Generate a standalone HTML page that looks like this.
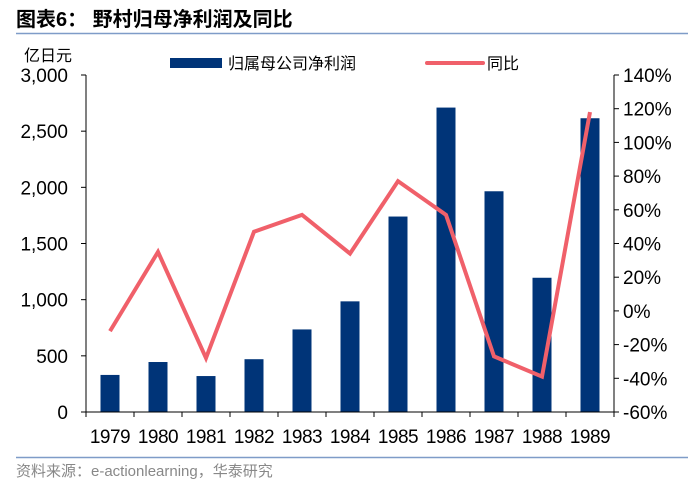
<!DOCTYPE html>
<html><head><meta charset="utf-8"><style>
body{margin:0;background:#fff}
svg text{font-family:"Liberation Sans","Noto Sans CJK SC",sans-serif}
</style></head><body>
<svg width="700" height="492" viewBox="0 0 700 492">
<text x="16" y="26" font-size="20" font-weight="bold" fill="#000">图表6：  野村归母净利润及同比</text>
<line x1="16" y1="33.5" x2="688" y2="33.5" stroke="#7f9cc8" stroke-width="1.5"/>
<text x="24" y="61" font-size="16" fill="#000">亿日元</text>
<rect x="170" y="58" width="52" height="10" fill="#003478"/>
<text x="228" y="69" font-size="16" fill="#000">归属母公司净利润</text>
<line x1="427" y1="63" x2="483" y2="63" stroke="#f0606a" stroke-width="4" stroke-linecap="round"/>
<text x="487" y="69" font-size="16" fill="#000">同比</text>
<g id="plot"></g>
<line x1="16" y1="457.5" x2="688" y2="457.5" stroke="#7f9cc8" stroke-width="1.5"/>
<text x="16" y="476" font-size="15" fill="#888">资料来源：e-actionlearning，华泰研究</text>
</svg>
<script>
const categories=["1979","1980","1981","1982","1983","1984","1985","1986","1987","1988","1989"];
const profit=[330,445,320,470,735,985,1740,2710,1965,1195,2615];
const yoy=[-12,35,-28,47,57,34,77,57,-27,-39,118];
const leftTicks=[0,500,1000,1500,2000,2500,3000];
const leftTickLabels=["0","500","1,000","1,500","2,000","2,500","3,000"];
const rightTicks=[-60,-40,-20,0,20,40,60,80,100,120,140];

const NS="http://www.w3.org/2000/svg";
const g=document.getElementById('plot');
const X0=86,X1=614,Y0=412,Y1=75;
const cw=(X1-X0)/categories.length;
const xc=i=>X0+cw*(i+0.5);
const yL=v=>Y0-(v/3000)*(Y0-Y1);
const yR=v=>Y0-((v+60)/200)*(Y0-Y1);
function mk(t,a){const e=document.createElementNS(NS,t);for(const k in a)e.setAttribute(k,a[k]);g.appendChild(e);return e;}
profit.forEach((v,i)=>{
  const r=mk('rect',{x:xc(i)-9.5,y:yL(v),width:19,height:Y0-yL(v),fill:'#003478'});
  
  
});
let ax=mk('line',{x1:X0,y1:Y1,x2:X0,y2:Y0,stroke:'#000'});


ax=mk('line',{x1:X1,y1:Y1,x2:X1,y2:Y0,stroke:'#000'});


ax=mk('line',{x1:X0,y1:Y0,x2:X1,y2:Y0,stroke:'#000'});


leftTicks.forEach((v,i)=>{
  mk('line',{x1:X0-5,y1:yL(v),x2:X0,y2:yL(v),stroke:'#000'});
  const t=mk('text',{x:X0-18,y:yL(v)+7,'font-size':19,'text-anchor':'end',fill:'#000'});
  t.textContent=leftTickLabels[i];
  
  
});
rightTicks.forEach(v=>{
  mk('line',{x1:X1,y1:yR(v),x2:X1+5,y2:yR(v),stroke:'#000'});
  const t=mk('text',{x:X1+9,y:yR(v)+7,'font-size':19,fill:'#000'});
  t.textContent=v+'%';
  
  
});
categories.forEach((c,i)=>{
  mk('line',{x1:X0+cw*i,y1:Y0,x2:X0+cw*i,y2:Y0+5,stroke:'#000'});
  const t=mk('text',{x:xc(i),y:443,'font-size':19,'text-anchor':'middle',fill:'#000','letter-spacing':'-0.5'});
  t.textContent=c;
  
  
});
mk('line',{x1:X1,y1:Y0,x2:X1,y2:Y0+5,stroke:'#000'});
const pl=mk('polyline',{points:yoy.map((v,i)=>xc(i)+','+yR(v)).join(' '),fill:'none',stroke:'#f0606a','stroke-width':4,'stroke-linejoin':'miter'});


</script>
</body></html>
